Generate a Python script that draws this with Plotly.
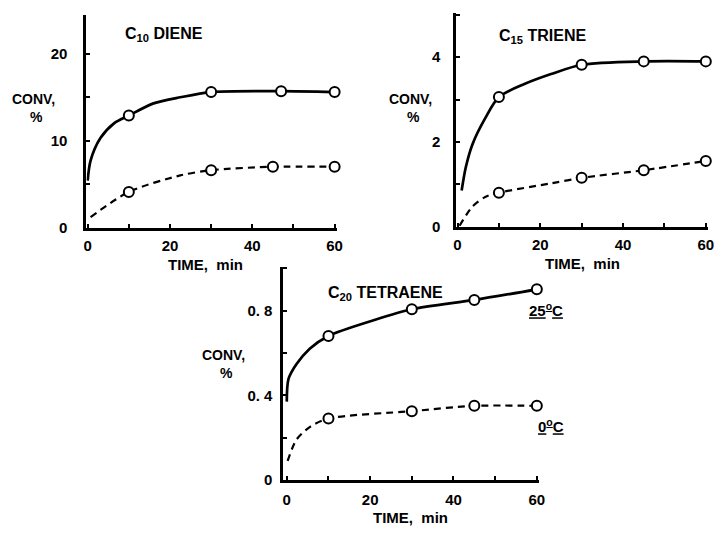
import plotly.graph_objects as go

# ---------------- data ----------------
# C10 DIENE
c10_hot_t = [10, 30, 47, 60]
c10_hot_v = [12.9, 15.6, 15.7, 15.6]
c10_cold_t = [10, 30, 45, 60]
c10_cold_v = [4.1, 6.6, 7.0, 7.0]
c10_hot_curve_t = [0, 0.7, 3.1, 6.4, 10, 16, 22.5, 30, 47, 60]
c10_hot_curve_v = [5.4, 7.7, 10.3, 12.0, 12.9, 14.3, 15.0, 15.6, 15.7, 15.6]
c10_cold_curve_t = [0.7, 10, 22.5, 30, 45, 60]
c10_cold_curve_v = [1.2, 4.1, 6.0, 6.6, 7.0, 7.0]

# C15 TRIENE
c15_hot_t = [10, 30, 45, 60]
c15_hot_v = [3.06, 3.82, 3.9, 3.9]
c15_cold_t = [10, 30, 45, 60]
c15_cold_v = [0.8, 1.15, 1.33, 1.55]
c15_hot_curve_t = [1.0, 2.0, 3.6, 6.7, 10, 16.3, 22.6, 30, 45, 60]
c15_hot_curve_v = [0.85, 1.4, 1.94, 2.56, 3.06, 3.37, 3.6, 3.82, 3.9, 3.9]
c15_cold_curve_t = [0.5, 3.6, 6.7, 10, 22.6, 30, 45, 60]
c15_cold_curve_v = [0.02, 0.47, 0.7, 0.8, 1.02, 1.15, 1.33, 1.55]

# C20 TETRAENE
c20_hot_t = [10, 30, 45, 60]
c20_hot_v = [0.68, 0.806, 0.85, 0.9]
c20_cold_t = [10, 30, 45, 60]
c20_cold_v = [0.29, 0.325, 0.35, 0.35]
c20_hot_curve_t = [0, 0.4, 2.3, 5.5, 10, 21, 30, 45, 60]
c20_hot_curve_v = [0.37, 0.476, 0.546, 0.62, 0.68, 0.755, 0.806, 0.85, 0.9]
c20_cold_curve_t = [0.2, 2.3, 5.5, 10, 30, 45, 60]
c20_cold_curve_v = [0.09, 0.19, 0.25, 0.29, 0.325, 0.35, 0.35]

titles = ["C<sub>10</sub> DIENE", "C<sub>15</sub> TRIENE", "C<sub>20</sub> TETRAENE"]
x_ticks = [0, 20, 40, 60]
y_ticks_1 = [0, 10, 20]
y_ticks_2 = [0, 2, 4]
y_ticks_3 = [0, 0.4, 0.8]
y_ticktext_3 = ["0", "0. 4", "0. 8"]
label_hot = "25<sup>o</sup>C"
label_cold = "0<sup>o</sup>C"

FONT = "Liberation Sans, Arial"
BLACK = "black"

fig = go.Figure()

panels = [
    (c10_hot_curve_t, c10_hot_curve_v, c10_cold_curve_t, c10_cold_curve_v,
     c10_hot_t, c10_hot_v, c10_cold_t, c10_cold_v, "x", "y"),
    (c15_hot_curve_t, c15_hot_curve_v, c15_cold_curve_t, c15_cold_curve_v,
     c15_hot_t, c15_hot_v, c15_cold_t, c15_cold_v, "x2", "y2"),
    (c20_hot_curve_t, c20_hot_curve_v, c20_cold_curve_t, c20_cold_curve_v,
     c20_hot_t, c20_hot_v, c20_cold_t, c20_cold_v, "x3", "y3"),
]

for (hct, hcv, cct, ccv, ht, hv, ct, cv, xa, ya) in panels:
    fig.add_trace(go.Scatter(x=hct, y=hcv, mode="lines", xaxis=xa, yaxis=ya,
                             line=dict(color=BLACK, width=2.7, shape="spline", smoothing=0.8),
                             showlegend=False, hoverinfo="skip", cliponaxis=False))
    fig.add_trace(go.Scatter(x=cct, y=ccv, mode="lines", xaxis=xa, yaxis=ya,
                             line=dict(color=BLACK, width=2.2, dash="7px,5px", shape="spline", smoothing=0.8),
                             showlegend=False, hoverinfo="skip", cliponaxis=False))
    fig.add_trace(go.Scatter(x=ht + ct, y=hv + cv, mode="markers", xaxis=xa, yaxis=ya,
                             marker=dict(symbol="circle", size=10, color="white",
                                         line=dict(color=BLACK, width=2)),
                             showlegend=False, cliponaxis=False))

tickfont = dict(family=FONT, size=15, color=BLACK, weight="bold")
axis_common = dict(showline=True, linecolor=BLACK, linewidth=3, showgrid=False, zeroline=False,
                   ticks="inside", ticklen=4, tickwidth=2, tickcolor=BLACK, tickfont=tickfont)

def minor(d):
    return dict(dtick=d, ticks="inside", ticklen=4, tickwidth=2, tickcolor=BLACK)

W, H = 721, 535

def xd(a, b):
    return [a / W, b / W]

def yd(top, bottom):
    return [(H - bottom) / H, (H - top) / H]

fig.update_layout(
    width=W, height=H, margin=dict(l=0, r=0, t=0, b=0),
    paper_bgcolor="white", plot_bgcolor="white",
    xaxis=dict(axis_common, domain=xd(84.5, 337.9), range=[-0.3, 60.5], anchor="y",
               tickvals=x_ticks, minor=minor(10), ticklabelstandoff=2),
    yaxis=dict(axis_common, domain=yd(15, 231), range=[0, 24.5], anchor="x",
               tickvals=y_ticks_1, minor=minor(5), ticklabelstandoff=13),
    xaxis2=dict(axis_common, domain=xd(459, 713.8), range=[-0.3, 60.5], anchor="y2",
                tickvals=x_ticks, minor=minor(10), ticklabelstandoff=2),
    yaxis2=dict(axis_common, domain=yd(13.3, 230), range=[0, 5.04], anchor="x2",
                tickvals=y_ticks_2, minor=minor(1), ticklabelstandoff=10),
    xaxis3=dict(axis_common, domain=xd(284, 542.7), range=[-0.8, 60.5], anchor="y3",
                tickvals=x_ticks, minor=minor(10), ticklabelstandoff=4),
    yaxis3=dict(axis_common, domain=yd(270.7, 487.3), range=[0, 1.007], anchor="x3",
                tickvals=y_ticks_3, ticktext=y_ticktext_3, minor=minor(0.2),
                ticklabelstandoff=5),
)

def ann(text, x, y, size=14, xanchor="center"):
    fig.add_annotation(text=text, x=x / W, y=(H - y) / H, xref="paper", yref="paper",
                       showarrow=False, xanchor=xanchor, yanchor="middle",
                       font=dict(family=FONT, size=size, color=BLACK, weight="bold"))

# panel titles
ann(titles[0], 122, 35, 16, "left")
ann(titles[1], 500, 37, 16, "left")
ann(titles[2], 327, 298, 16, "left")

# y axis titles
for cx, cy in [(31, 100), (413, 100), (223, 360)]:
    ann("CONV,", cx, cy, 14)
    ann("%", cx + 3, cy + 19, 14)

# x axis titles
ann("TIME,  min", 205, 269, 15)
ann("TIME,  min", 587, 268, 15)
ann("TIME,  min", 413, 525, 15)

# curve labels
ann("<u>" + label_hot + "</u>", 550, 314, 15)
ann("<u>" + label_cold + "</u>", 555, 432, 15)

fig.write_html("out.html", config={"displayModeBar": False},
               post_script="document.body.style.margin='0';")
